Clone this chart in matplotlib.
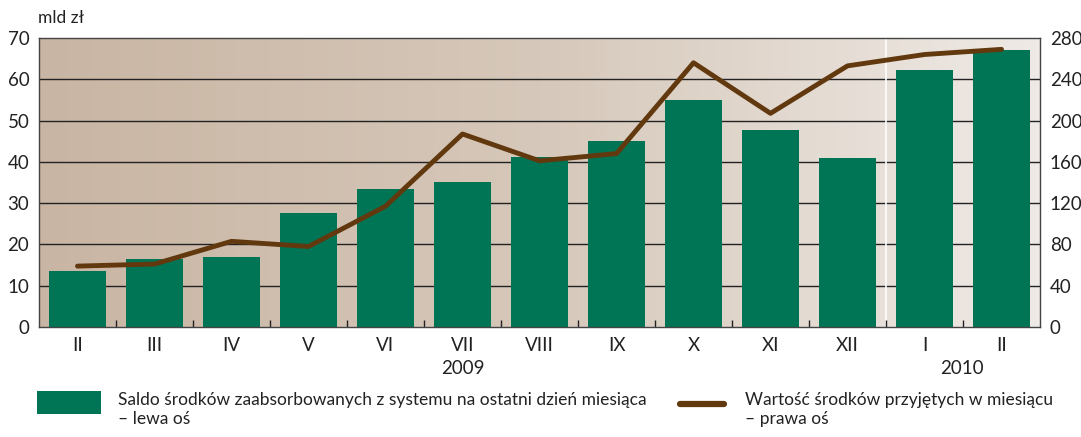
import matplotlib
matplotlib.use("Agg")
import matplotlib.pyplot as plt
import numpy as np
from matplotlib.colors import LinearSegmentedColormap
from matplotlib.lines import Line2D
from matplotlib.patches import Rectangle

months = ["II", "III", "IV", "V", "VI", "VII", "VIII", "IX", "X", "XI", "XII", "I", "II"]
saldo = [13.6, 16.5, 17.0, 27.6, 33.4, 35.1, 41.2, 45.0, 55.0, 47.7, 40.9, 62.2, 67.1]
wartosc = [59, 61, 83, 78, 117, 187, 161, 168, 256, 207, 253, 264, 269]
years = ["2009", "2010"]
left_ticks = [0, 10, 20, 30, 40, 50, 60, 70]
right_ticks = [0, 40, 80, 120, 160, 200, 240, 280]
label_bar = "Saldo środków zaabsorbowanych z systemu na ostatni dzień miesiąca\n– lewa oś"
label_line = "Wartość środków przyjętych w miesiącu\n– prawa oś"

plt.rcParams['font.family'] = ['Lato', 'DejaVu Sans']
fs = 12.5
fst = 13.5
tc = "#222222"
green = "#007556"
brown = "#62390F"

W, H = 1081, 437
fig = plt.figure(figsize=(W / 100, H / 100), dpi=100)
ax = fig.add_axes([39 / W, 1 - 327 / H, 1001 / W, 289 / H])
x = np.arange(len(months))

cmap = LinearSegmentedColormap.from_list("bg", ["#C9B5A3", "#D6C8BA", "#EFEAE6"])
grad = np.linspace(0, 1, 256).reshape(1, -1)
ax.imshow(grad, cmap=cmap, aspect='auto', extent=[-0.5, 12.5, 0, 70], zorder=0)

for t in left_ticks[1:-1]:
    ax.axhline(t, color="#222222", lw=1.0, zorder=1)
ax.axvline(10.5, color="white", lw=1.2, zorder=1)

ax.bar(x, saldo, width=0.73, color=green, zorder=2)
ax.set_xlim(-0.5, 12.5)
ax.set_ylim(0, 70)
ax.set_yticks(left_ticks)
ax.set_xticks(x)
ax.set_xticklabels(months, fontsize=fst, color=tc)
ax.set_xticks(np.arange(0.5, 12.5, 1), minor=True)
ax.tick_params(axis='x', which='major', length=0, pad=7)
ax.tick_params(axis='x', which='minor', direction='in', length=5, width=1, color=tc)
ax.tick_params(axis='y', length=0, labelsize=fst, pad=7, colors=tc)
for s in ax.spines.values():
    s.set_color("#444444")
    s.set_linewidth(1)

ax2 = ax.twinx()
ax2.plot(x, wartosc, color=brown, lw=3.5, solid_capstyle='round', zorder=3)
ax2.set_ylim(0, 280)
ax2.set_yticks(right_ticks)
ax2.tick_params(axis='y', length=0, labelsize=fst, pad=7, colors=tc)
for s in ax2.spines.values():
    s.set_visible(False)

fig.text(38 / W, 1 - 18 / H, "mld zł", fontsize=12.5, color=tc, va='center', ha='left')

fig.text(463 / W, 1 - 368 / H, years[0], fontsize=fst, ha='center', va='center', color=tc)
fig.text(962 / W, 1 - 368 / H, years[1], fontsize=fst, ha='center', va='center', color=tc)

# legend (manual)
fig.patches.append(Rectangle((37 / W, 1 - 414 / H), 64 / W, 23 / H, transform=fig.transFigure,
                             facecolor=green, edgecolor='none'))
fig.lines.append(Line2D([680 / W, 724 / W], [1 - 404 / H, 1 - 404 / H], transform=fig.transFigure,
                        color=brown, lw=4.5, solid_capstyle='round'))
fig.text(118 / W, 1 - 392 / H, label_bar, fontsize=fs, color=tc, va='top', ha='left', linespacing=1.25)
fig.text(745 / W, 1 - 392 / H, label_line, fontsize=fs, color=tc, va='top', ha='left', linespacing=1.25)

fig.savefig("out.png", dpi=100)
